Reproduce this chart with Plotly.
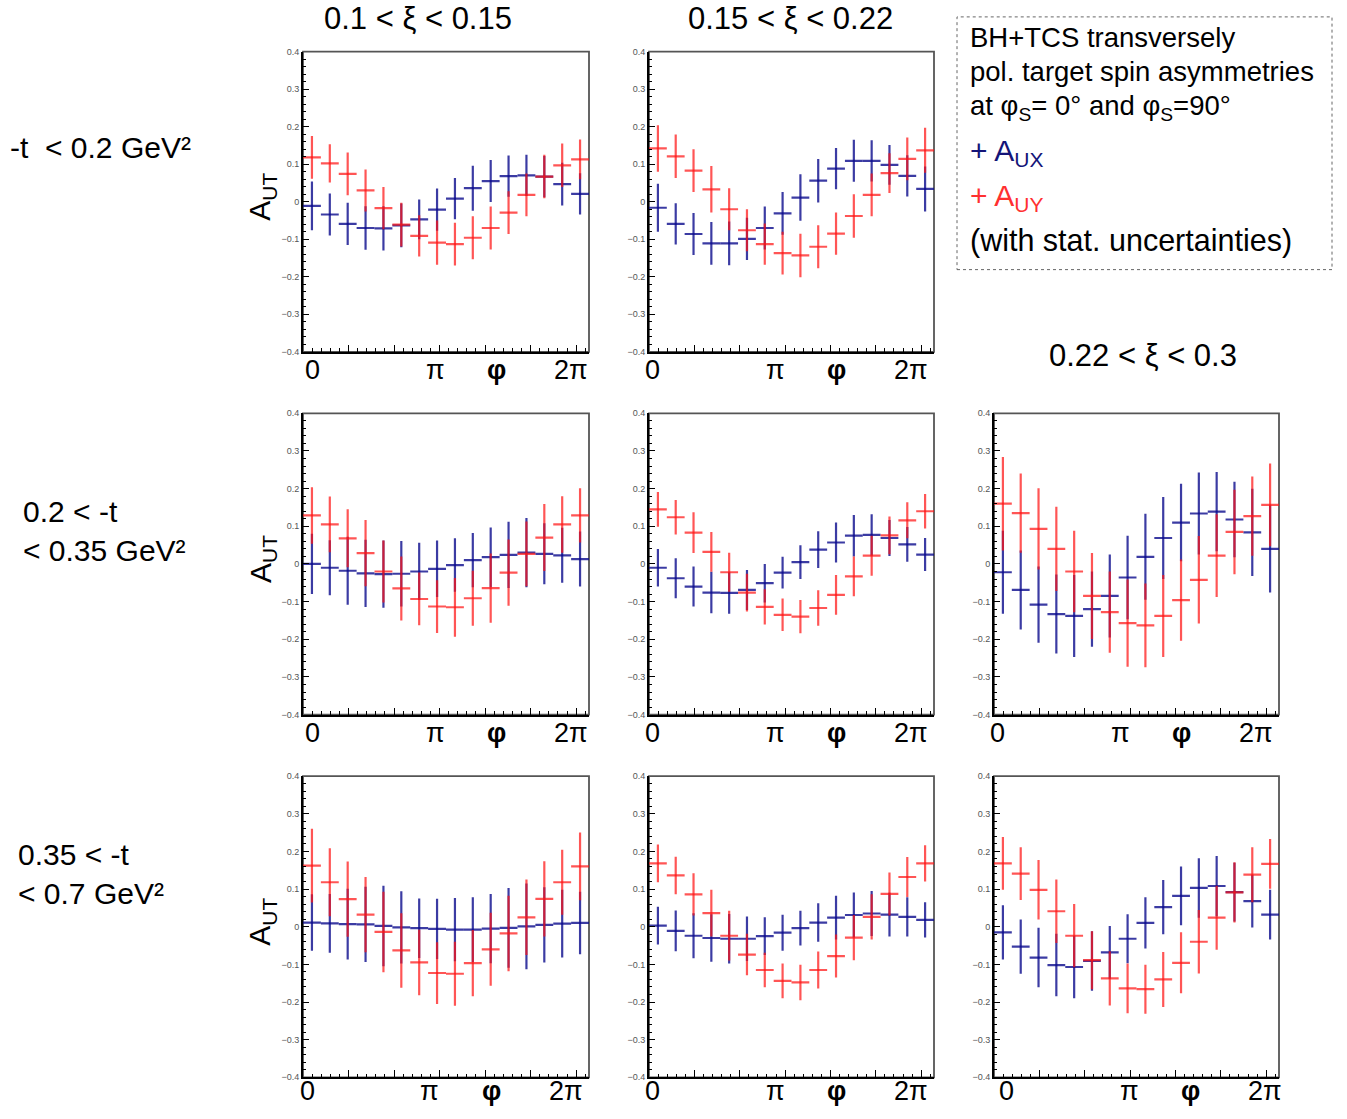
import numpy as np
import plotly.graph_objects as go

W, H = 1347, 1119

# ---------------- data (16 phi bins from 0 to 2*pi) ----------------
n_bins = 16

# row 1 (-t < 0.2), col 1 (0.1 < xi < 0.15)
aux_r1c1 = [-0.011, -0.034, -0.059, -0.070, -0.071, -0.063, -0.047, -0.021, 0.008, 0.036, 0.055, 0.068, 0.070, 0.067, 0.047, 0.021]
aux_err_r1c1 = [0.065, 0.056, 0.056, 0.058, 0.059, 0.058, 0.053, 0.056, 0.055, 0.060, 0.056, 0.055, 0.055, 0.055, 0.057, 0.055]
auy_r1c1 = [0.118, 0.102, 0.074, 0.030, -0.017, -0.061, -0.091, -0.109, -0.113, -0.096, -0.070, -0.029, 0.018, 0.067, 0.097, 0.113]
auy_err_r1c1 = [0.057, 0.051, 0.057, 0.056, 0.056, 0.058, 0.055, 0.059, 0.057, 0.057, 0.057, 0.057, 0.057, 0.058, 0.058, 0.053]

# row 1, col 2 (0.15 < xi < 0.22)
aux_r1c2 = [-0.016, -0.059, -0.086, -0.111, -0.111, -0.099, -0.070, -0.031, 0.011, 0.056, 0.088, 0.109, 0.109, 0.098, 0.069, 0.034]
aux_err_r1c2 = [0.064, 0.055, 0.056, 0.057, 0.058, 0.056, 0.057, 0.057, 0.062, 0.058, 0.055, 0.056, 0.055, 0.053, 0.055, 0.060]
auy_r1c2 = [0.142, 0.121, 0.083, 0.033, -0.020, -0.076, -0.113, -0.137, -0.143, -0.120, -0.085, -0.038, 0.018, 0.076, 0.114, 0.137]
auy_err_r1c2 = [0.062, 0.058, 0.057, 0.062, 0.056, 0.056, 0.055, 0.057, 0.058, 0.057, 0.056, 0.058, 0.057, 0.053, 0.057, 0.060]

# row 2 (0.2 < -t < 0.35), col 1
aux_r2c1 = [0.000, -0.010, -0.018, -0.025, -0.027, -0.026, -0.020, -0.013, -0.003, 0.010, 0.018, 0.024, 0.030, 0.027, 0.023, 0.013]
aux_err_r2c1 = [0.080, 0.073, 0.090, 0.089, 0.089, 0.087, 0.076, 0.075, 0.071, 0.072, 0.079, 0.088, 0.092, 0.081, 0.073, 0.073]
auy_r2c1 = [0.129, 0.105, 0.068, 0.029, -0.020, -0.065, -0.093, -0.113, -0.115, -0.091, -0.064, -0.023, 0.027, 0.070, 0.105, 0.129]
auy_err_r2c1 = [0.075, 0.074, 0.077, 0.088, 0.082, 0.085, 0.070, 0.070, 0.078, 0.073, 0.092, 0.088, 0.086, 0.089, 0.075, 0.072]

# row 2, col 2
aux_r2c2 = [-0.010, -0.038, -0.060, -0.076, -0.077, -0.069, -0.051, -0.023, 0.005, 0.038, 0.057, 0.075, 0.077, 0.069, 0.052, 0.025]
aux_err_r2c2 = [0.050, 0.053, 0.053, 0.055, 0.055, 0.053, 0.051, 0.042, 0.045, 0.049, 0.053, 0.055, 0.055, 0.048, 0.046, 0.044]
auy_r2c2 = [0.145, 0.124, 0.083, 0.032, -0.022, -0.076, -0.114, -0.135, -0.140, -0.117, -0.082, -0.033, 0.022, 0.076, 0.116, 0.140]
auy_err_r2c2 = [0.046, 0.046, 0.054, 0.053, 0.052, 0.050, 0.047, 0.043, 0.044, 0.047, 0.053, 0.053, 0.053, 0.050, 0.048, 0.046]

# row 2, col 3 (0.22 < xi < 0.3)
aux_r2c3 = [-0.022, -0.069, -0.108, -0.133, -0.138, -0.120, -0.085, -0.036, 0.019, 0.069, 0.110, 0.134, 0.139, 0.118, 0.084, 0.040]
aux_err_r2c3 = [0.110, 0.105, 0.101, 0.105, 0.109, 0.100, 0.110, 0.111, 0.114, 0.109, 0.103, 0.109, 0.105, 0.100, 0.116, 0.116]
auy_r2c3 = [0.160, 0.135, 0.093, 0.040, -0.020, -0.085, -0.128, -0.157, -0.163, -0.138, -0.096, -0.042, 0.022, 0.085, 0.127, 0.157]
auy_err_r2c3 = [0.124, 0.105, 0.108, 0.112, 0.108, 0.114, 0.108, 0.116, 0.111, 0.109, 0.108, 0.116, 0.110, 0.112, 0.105, 0.110]

# row 3 (0.35 < -t < 0.7), col 1
aux_r3c1 = [0.011, 0.009, 0.007, 0.006, 0.002, -0.002, -0.004, -0.006, -0.008, -0.008, -0.005, -0.003, 0.001, 0.005, 0.008, 0.010]
aux_err_r3c1 = [0.075, 0.078, 0.094, 0.100, 0.107, 0.096, 0.079, 0.080, 0.084, 0.086, 0.092, 0.106, 0.114, 0.100, 0.090, 0.083]
auy_r3c1 = [0.162, 0.118, 0.073, 0.032, -0.014, -0.063, -0.095, -0.123, -0.125, -0.097, -0.060, -0.018, 0.025, 0.074, 0.118, 0.160]
auy_err_r3c1 = [0.098, 0.090, 0.100, 0.100, 0.107, 0.099, 0.087, 0.082, 0.085, 0.088, 0.097, 0.100, 0.100, 0.100, 0.086, 0.090]

# row 3, col 2
aux_r3c2 = [0.003, -0.011, -0.024, -0.030, -0.032, -0.032, -0.025, -0.016, -0.004, 0.011, 0.024, 0.031, 0.035, 0.032, 0.026, 0.018]
aux_err_r3c2 = [0.050, 0.054, 0.060, 0.063, 0.066, 0.059, 0.050, 0.048, 0.046, 0.051, 0.058, 0.060, 0.060, 0.058, 0.052, 0.047]
auy_r3c2 = [0.168, 0.136, 0.086, 0.036, -0.024, -0.074, -0.115, -0.144, -0.148, -0.115, -0.078, -0.029, 0.026, 0.087, 0.132, 0.168]
auy_err_r3c2 = [0.050, 0.050, 0.056, 0.062, 0.066, 0.055, 0.046, 0.046, 0.047, 0.049, 0.057, 0.060, 0.060, 0.057, 0.053, 0.048]

# row 3, col 3
aux_r3c3 = [-0.015, -0.053, -0.082, -0.102, -0.107, -0.091, -0.068, -0.032, 0.010, 0.052, 0.082, 0.103, 0.108, 0.092, 0.068, 0.032]
aux_err_r3c3 = [0.072, 0.072, 0.079, 0.083, 0.083, 0.079, 0.070, 0.065, 0.068, 0.072, 0.078, 0.079, 0.080, 0.078, 0.070, 0.066]
auy_r3c3 = [0.168, 0.141, 0.098, 0.041, -0.024, -0.089, -0.137, -0.164, -0.166, -0.140, -0.096, -0.040, 0.024, 0.091, 0.138, 0.167]
auy_err_r3c3 = [0.070, 0.070, 0.079, 0.084, 0.084, 0.077, 0.072, 0.066, 0.065, 0.073, 0.081, 0.084, 0.085, 0.080, 0.073, 0.066]

xi_titles = ["0.1 < ξ < 0.15", "0.15 < ξ < 0.22", "0.22 < ξ < 0.3"]
t_labels = ["-t\u00a0 < 0.2 GeV²", "0.2 < -t<br>< 0.35 GeV²", "0.35 < -t<br>< 0.7 GeV²"]
x_labels = ["0", "π", "<b>φ</b>", "2π"]
y_ticks = [-0.4, -0.3, -0.2, -0.1, 0.0, 0.1, 0.2, 0.3, 0.4]

# ---------------- layout geometry ----------------
col_px = [(303, 589), (649, 934), (994, 1279)]
row_px = [(47, 350), (412, 716), (778, 1082)]

panels = [
    (0, 0, aux_r1c1, aux_err_r1c1, auy_r1c1, auy_err_r1c1, 312),
    (0, 1, aux_r1c2, aux_err_r1c2, auy_r1c2, auy_err_r1c2, 652),
    (1, 0, aux_r2c1, aux_err_r2c1, auy_r2c1, auy_err_r2c1, 312),
    (1, 1, aux_r2c2, aux_err_r2c2, auy_r2c2, auy_err_r2c2, 652),
    (1, 2, aux_r2c3, aux_err_r2c3, auy_r2c3, auy_err_r2c3, 997),
    (2, 0, aux_r3c1, aux_err_r3c1, auy_r3c1, auy_err_r3c1, 307),
    (2, 1, aux_r3c2, aux_err_r3c2, auy_r3c2, auy_err_r3c2, 652),
    (2, 2, aux_r3c3, aux_err_r3c3, auy_r3c3, auy_err_r3c3, 1006),
]
xlabel_y = [368, 735, 1096]
xlabel_dx = [0, 123, 184, 259]

BLUE = "rgba(10,10,140,0.8)"
RED = "rgba(255,20,20,0.72)"
FONT = "Liberation Sans"

edges = np.linspace(0, 2 * np.pi, n_bins + 1)
centers = 0.5 * (edges[:-1] + edges[1:])
half_w = 0.5 * (edges[1] - edges[0])

fig = go.Figure()
annotations = []
shapes = []

def px2x(p):
    return p / W

def px2y(p):
    return 1 - p / H

for k, (r, c, aux, aux_e, auy, auy_e, x0lab) in enumerate(panels):
    idx = "" if k == 0 else str(k + 1)
    xa, ya = "x" + idx, "y" + idx
    for vals, errs, col in [(aux, aux_e, BLUE), (auy, auy_e, RED)]:
        fig.add_trace(go.Scatter(
            x=centers, y=vals, xaxis=xa, yaxis=ya, mode="markers",
            marker=dict(size=2, color=col, opacity=0), showlegend=False, hoverinfo="skip",
            error_x=dict(type="constant", value=half_w, color=col, thickness=2.2, width=0),
            error_y=dict(type="data", array=errs, color=col, thickness=2.2, width=0),
        ))
    xd = [px2x(col_px[c][0]), px2x(col_px[c][1])]
    yd = [px2y(row_px[r][1]), px2y(row_px[r][0])]
    fig.layout["xaxis" + idx] = dict(
        domain=xd, range=[0, 2 * np.pi], anchor=ya, showgrid=False, zeroline=False,
        showline=True, linecolor="black", linewidth=2, mirror=False,
        ticks="inside", tick0=0, dtick=1, ticklen=7, tickwidth=1.3, tickcolor="black",
        minor=dict(ticks="inside", dtick=0.2, ticklen=3.5, tickwidth=1, tickcolor="black"),
        showticklabels=False, fixedrange=True,
    )
    fig.layout["yaxis" + idx] = dict(
        domain=yd, range=[-0.4, 0.4], anchor=xa, showgrid=False, zeroline=False,
        showline=True, linecolor="black", linewidth=2, mirror=False,
        ticks="inside", tickvals=y_ticks, ticklen=6, tickwidth=1.3, tickcolor="black",
        minor=dict(ticks="inside", dtick=0.02, tick0=0, ticklen=3, tickwidth=1, tickcolor="black"),
        tickfont=dict(family=FONT, size=9, color="#555"), fixedrange=True,
    )
    shapes.append(dict(type="rect", xref=xa + " domain", yref=ya + " domain",
                       x0=0, x1=1, y0=0, y1=1, line=dict(color="#555", width=1.8), layer="below"))
    for lab, dx in zip(x_labels, xlabel_dx):
        annotations.append(dict(text=lab, x=px2x(x0lab + dx), y=px2y(xlabel_y[r]),
                                xref="paper", yref="paper", showarrow=False,
                                xanchor="center", yanchor="middle",
                                font=dict(family=FONT, size=27, color="black")))
    if c == 0:
        annotations.append(dict(text="A<sub>UT</sub>", x=px2x(262), y=px2y((row_px[r][0] + row_px[r][1]) / 2 - 5),
                                xref="paper", yref="paper", showarrow=False, textangle=-90,
                                xanchor="center", yanchor="middle",
                                font=dict(family=FONT, size=30, color="black")))

# column titles
for txt, (x, y) in zip(xi_titles, [(418, 14), (790, 14), (1143, 354)]):
    annotations.append(dict(text=txt, x=px2x(x), y=px2y(y), xref="paper", yref="paper",
                            showarrow=False, xanchor="center", yanchor="middle",
                            font=dict(family=FONT, size=31, color="black")))

# row labels
for txt, (x, y) in zip(t_labels, [(8, 144), (21, 531), (16, 877)]):
    annotations.append(dict(text=txt, x=px2x(x), y=px2y(y), xref="paper", yref="paper",
                            showarrow=False, xanchor="left", yanchor="middle", align="left",
                            font=dict(family=FONT, size=30, color="black")))

# legend box
shapes.append(dict(type="rect", xref="paper", yref="paper",
                   x0=px2x(957), x1=px2x(1332), y0=px2y(267), y1=px2y(12),
                   line=dict(color="#666", width=1, dash="dot")))
legend_lines = [
    ("BH+TCS transversely", "black", 33, 27.5),
    ("pol. target spin asymmetries", "black", 67, 27.5),
    ("at φ<sub>S</sub>= 0° and φ<sub>S</sub>=90°", "black", 103, 27.5),
    ("+ A<sub>UX</sub>", "#141478", 149, 30),
    ("+ A<sub>UY</sub>", "#ff3030", 194, 30),
    ("(with stat. uncertainties)", "black", 238, 30.5),
]
for txt, col, y, fs in legend_lines:
    annotations.append(dict(text=txt, x=px2x(968), y=px2y(y), xref="paper", yref="paper",
                            showarrow=False, xanchor="left", yanchor="middle",
                            font=dict(family=FONT, size=fs, color=col)))

fig.update_layout(
    width=W, height=H, margin=dict(l=0, r=0, t=0, b=0),
    paper_bgcolor="white", plot_bgcolor="white",
    annotations=annotations, shapes=shapes, showlegend=False,
)

fig.write_html("out.html", config={"displayModeBar": False})
